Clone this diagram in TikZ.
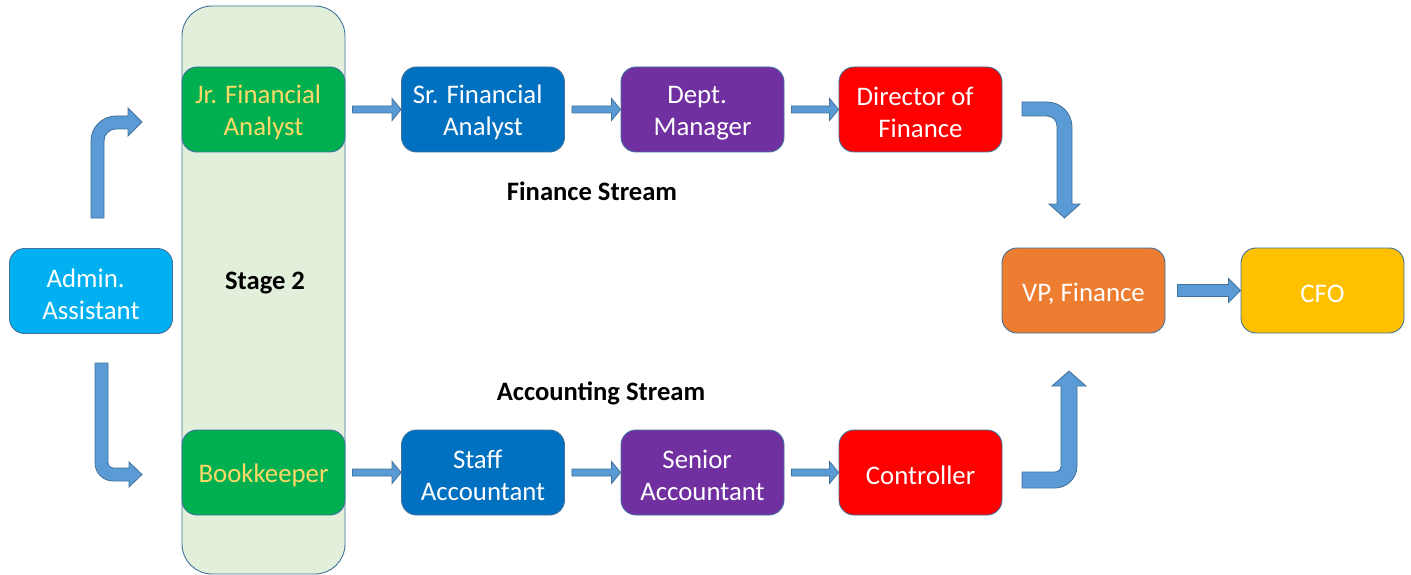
\documentclass[tikz,border=0pt]{standalone}
\usepackage{fontspec}
\setmainfont{Carlito}
\usetikzlibrary{calc}
\definecolor{outl}{HTML}{41719C}
\definecolor{arrfill}{HTML}{5B9BD5}
\definecolor{stagefill}{HTML}{E2EFDA}
\definecolor{cyanb}{HTML}{00B0F0}
\definecolor{greenb}{HTML}{00B050}
\definecolor{yellowt}{HTML}{FFD966}
\definecolor{blueb}{HTML}{0070C0}
\definecolor{purpleb}{HTML}{7030A0}
\definecolor{redb}{HTML}{FF0000}
\definecolor{orangeb}{HTML}{ED7D31}
\definecolor{goldb}{HTML}{FFC000}
\newcommand\tpad{\hspace*{0.4em}}
\newcommand\tup{\rule{0pt}{24.5pt}}
% horizontal block arrow: source, target, gap, shaft half, head half, head length
\newcommand\harrow[6]{%
  \path[blockarr] let \p1=(#1.east), \p2=(#2.west) in
    (\x1+#3pt,\y2+#4pt) -- (\x2-#6pt,\y2+#4pt) -- (\x2-#6pt,\y2+#5pt) -- (\x2,\y2)
    -- (\x2-#6pt,\y2-#5pt) -- (\x2-#6pt,\y2-#4pt) -- (\x1+#3pt,\y2-#4pt) -- cycle;}
\begin{document}
\begin{tikzpicture}[x=1pt,y=-1pt,
  box/.style={draw=outl, line width=0.9pt, rounded corners=15pt,
    minimum width=163pt, minimum height=85pt, inner sep=0pt,
    align=center, text=white, font=\fontsize{26.8}{32}\selectfont},
  lbl/.style={font=\fontsize{26.6}{32}\selectfont\bfseries, inner sep=0pt},
  blockarr/.style={fill=arrfill, draw=outl, line width=0.8pt, line join=miter}]
\useasboundingbox (0,0) rectangle (1411,575);

% stage column
\node[draw=outl, line width=0.9pt, fill=stagefill, rounded corners=30pt,
  minimum width=163pt, minimum height=568pt, inner sep=0pt] (stage) at (263.5,290) {};
\node[lbl] (stagelbl) at (265,283) {Stage 2};

% nodes
\node[box, fill=cyanb] (admin) at (91,291) {\tup Admin.\tpad\\Assistant};
\node[box, fill=greenb, text=yellowt] (jr) at (263.5,109.5) {\tup Jr. Financial\tpad\\Analyst};
\node[box, fill=greenb, text=yellowt] (bk) at (263.5,472.5) {\tup Bookkeeper};
\node[box, fill=blueb] (sr) at (483,109.5) {\tup Sr. Financial\tpad\\Analyst};
\node[box, fill=purpleb] (dm) at (702.5,109.5) {\tup Dept.\tpad\\Manager};
\node[box, fill=redb] (dir) at (920.5,109.5) {\tup Director of\tpad\\Finance};
\node[box, fill=blueb] (sa) at (483,472.5) {\tup Staff\tpad\\Accountant};
\node[box, fill=purpleb] (sen) at (702.5,472.5) {\tup Senior\tpad\\Accountant};
\node[box, fill=redb] (ctl) at (920.5,472.5) {\tup Controller};
\node[box, fill=orangeb] (vp) at (1083.5,290.5) {\tup VP, Finance};
\node[box, fill=goldb] (cfo) at (1322.5,290.5) {\tup CFO};

\node[lbl] (fs) at (592,191) {Finance Stream};
\node[lbl] (as) at (601,393) {Accounting Stream};

% straight arrows
\harrow{jr}{sr}{7}{3.5}{11}{9}
\harrow{sr}{dm}{7}{3.5}{11}{9}
\harrow{dm}{dir}{7}{3.5}{11}{9}
\harrow{bk}{sa}{7}{3.5}{11}{9}
\harrow{sa}{sen}{7}{3.5}{11}{9}
\harrow{sen}{ctl}{7}{3.5}{11}{9}
\harrow{vp}{cfo}{12}{6}{12}{12}

% bent arrow admin -> jr
\path[blockarr] (91,218) -- (91,141) .. controls (91,127.2) and (102.2,116) .. (116,116)
  -- (128,116) -- (128,108) -- (142,122) -- (128,136) -- (128,129) -- (116,129)
  .. controls (109.4,129) and (104,134.4) .. (104,141) -- (104,218) -- cycle;
% bent arrow admin -> bookkeeper
\path[blockarr] (95,363) -- (108,363) -- (108,463) .. controls (108,465.8) and (110.2,468) .. (113,468)
  -- (129,468) -- (129,462) -- (142,474.5) -- (129,487) -- (129,481) -- (113,481)
  .. controls (103.1,481) and (95,472.9) .. (95,463) -- cycle;
% bent arrow director -> vp
\path[blockarr] (1022,102) -- (1047,102) .. controls (1060.8,102) and (1072,113.2) .. (1072,127)
  -- (1072,204) -- (1080,204) -- (1064.5,218) -- (1049,204) -- (1057,204) -- (1057,126)
  .. controls (1057,120.5) and (1052.5,116) .. (1047,116) -- (1022,116) -- cycle;
% bent arrow controller -> vp
\path[blockarr] (1022,472) -- (1055,472) .. controls (1058.3,472) and (1061,469.3) .. (1061,466)
  -- (1061,386) -- (1052,386) -- (1069,371) -- (1086,386) -- (1077,386) -- (1077,466)
  .. controls (1077,478.1) and (1067.1,488) .. (1055,488) -- (1022,488) -- cycle;
\end{tikzpicture}
\end{document}
